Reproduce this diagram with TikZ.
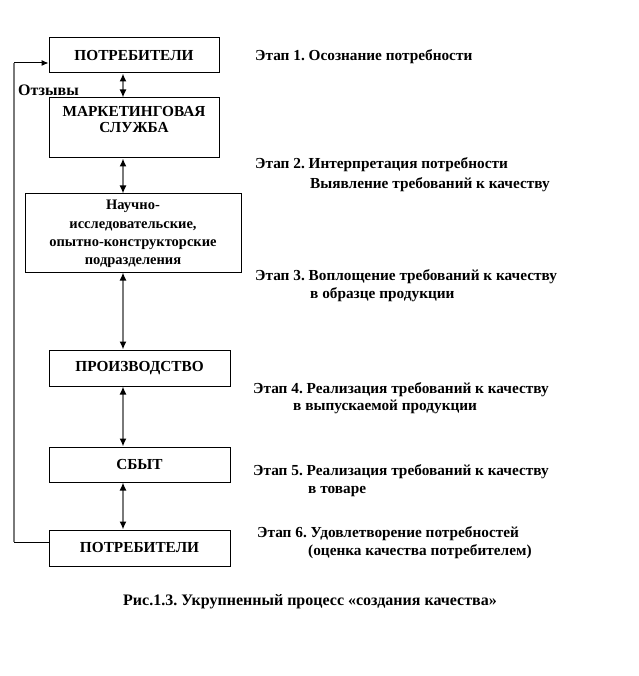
\documentclass[tikz,border=0pt]{standalone}
\usepackage{fontspec}
\setmainfont{Liberation Serif}
\usetikzlibrary{arrows.meta}
\frenchspacing
\tikzset{
  box/.style={draw=black, line width=1pt, minimum width=#1, inner sep=0pt},
  lbl/.style={font=\bfseries\fontsize{15.3}{16}\selectfont, align=center, inner sep=0pt},
  smalllbl/.style={font=\bfseries\fontsize{14.5}{18.3}\selectfont, align=center, inner sep=0pt},
  stage/.style={font=\bfseries\fontsize{15.3}{17}\selectfont, anchor=west, inner sep=0pt, text height=10pt, text depth=3.5pt},
  dbl/.style={draw=gray!95!black, line width=1.5pt, {Latex[length=8pt,width=7pt,black]}-{Latex[length=8pt,width=7pt,black]}},
  fbv/.style={draw=gray!95!black, line width=1.5pt},
  fbh/.style={draw=black, line width=1pt},
}
\begin{document}
\begin{tikzpicture}[x=1pt,y=-1pt]
\useasboundingbox (0,0) rectangle (638,676);
% boxes
\node[box=170pt, minimum height=35pt, lbl] (b1) at (134,55.5) {ПОТРЕБИТЕЛИ};
\node[box=170pt, minimum height=60pt] (b2) at (134,128) {};
\node[lbl] (t2) at (134,120) {МАРКЕТИНГОВАЯ\\СЛУЖБА};
\node[box=216pt, minimum height=78pt] (b3) at (133,233) {};
\node[smalllbl] (t3) at (133,234) {Научно-\\исследовательские,\\опытно-конструкторские\\подразделения};
\node[box=181pt, minimum height=36pt, lbl] (b4) at (139.5,368) {ПРОИЗВОДСТВО};
\node[box=181pt, minimum height=35pt, lbl] (b5) at (139.5,464.5) {СБЫТ};
\node[box=181pt, minimum height=36pt, lbl] (b6) at (139.5,548) {ПОТРЕБИТЕЛИ};
% vertical arrows
\coordinate (ax) at (123,0);
\draw[dbl] (b1.south -| ax) -- (b2.north -| ax);
\draw[dbl] (b2.south -| ax) -- (b3.north -| ax);
\draw[dbl] (b3.south -| ax) -- (b4.north -| ax);
\draw[dbl] (b4.south -| ax) -- (b5.north -| ax);
\draw[dbl] (b5.south -| ax) -- (b6.north -| ax);
% feedback
\coordinate (fb1) at (14,542);
\coordinate (fb2) at (14,63);
\draw[fbh] ([yshift=6pt]b6.west) -- (fb1);
\draw[fbv] (fb1) -- (fb2);
\draw[fbh, -{Latex[length=7pt,width=6pt]}] (fb2) -- ([yshift=-7.5pt]b1.west);
\node[stage, font=\bfseries\fontsize{16}{17}\selectfont] (otz) at (18,92) {Отзывы};
% stages
\node[stage] (s1) at (255,57) {Этап 1. Осознание потребности};
\node[stage] (s2a) at (255,165) {Этап 2. Интерпретация потребности};
\node[stage] (s2b) at (310,185) {Выявление требований к качеству};
\node[stage] (s3a) at (255,277) {Этап 3. Воплощение требований к качеству};
\node[stage] (s3b) at (310,295) {в образце продукции};
\node[stage] (s4a) at (253,390) {Этап 4. Реализация требований к качеству};
\node[stage] (s4b) at (293,407) {в выпускаемой продукции};
\node[stage] (s5a) at (253,472) {Этап 5. Реализация требований к качеству};
\node[stage] (s5b) at (308,490) {в товаре};
\node[stage] (s6a) at (257,534) {Этап 6. Удовлетворение потребностей};
\node[stage] (s6b) at (308,552) {(оценка качества потребителем)};
\node[stage, anchor=center, font=\bfseries\fontsize{16}{17}\selectfont] (cap) at (310,602) {Рис.1.3. Укрупненный процесс «создания качества»};
\end{tikzpicture}
\end{document}
